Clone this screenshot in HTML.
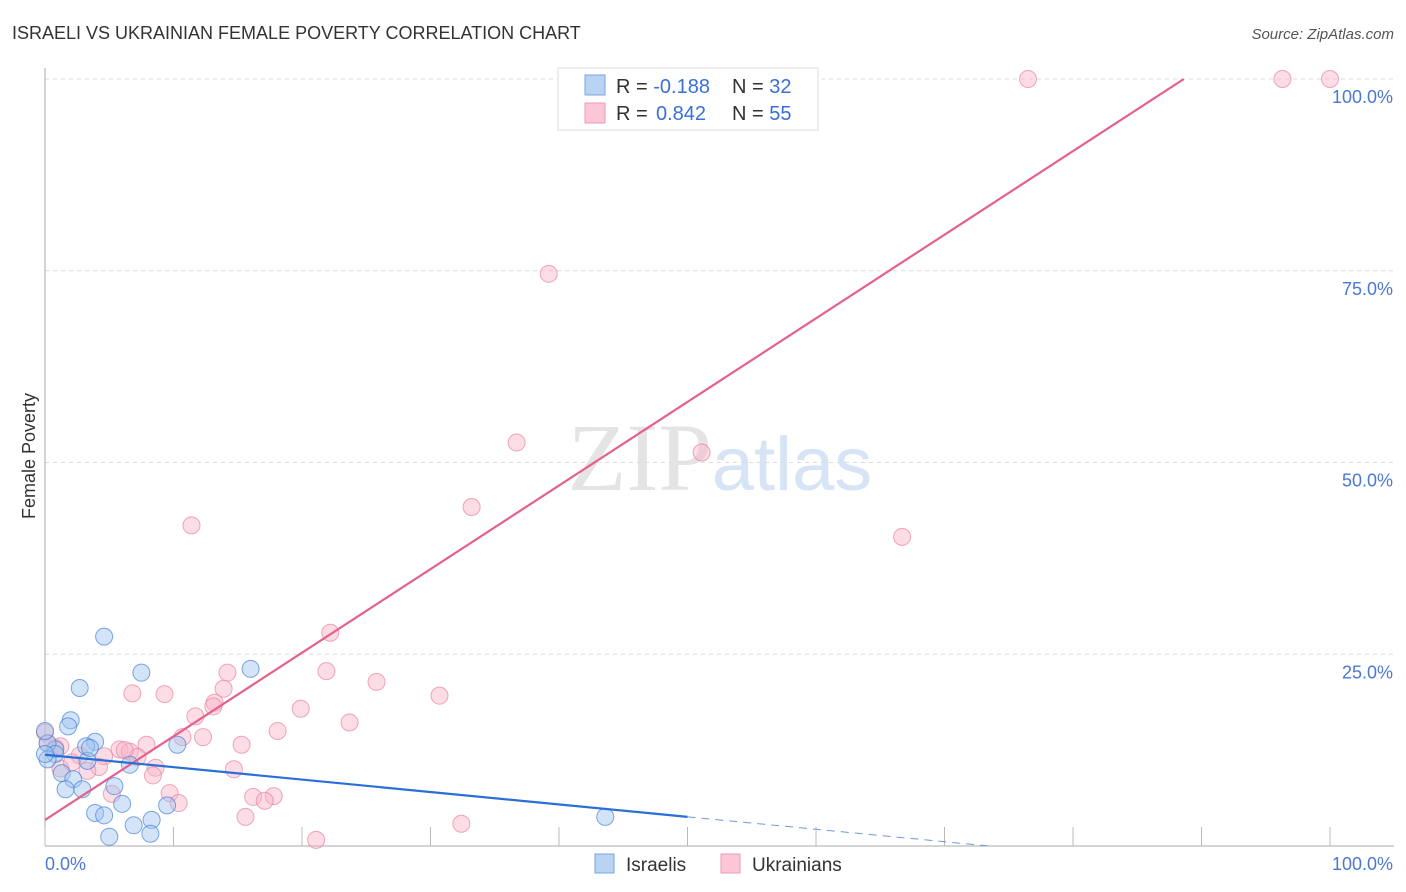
<!DOCTYPE html>
<html><head><meta charset="utf-8"><style>
body{margin:0;background:#fff;font-family:"Liberation Sans",sans-serif;}
</style></head><body>
<svg id="c" width="1406" height="892" xmlns="http://www.w3.org/2000/svg" style="display:block">
<text x="12" y="39" font-size="18" fill="#333">ISRAELI VS UKRAINIAN FEMALE POVERTY CORRELATION CHART</text>
<text x="1394" y="39" font-size="15" fill="#555" font-style="italic" text-anchor="end">Source: ZipAtlas.com</text>
<text x="35" y="456" font-size="18" fill="#333" transform="rotate(-90 35 456)" text-anchor="middle">Female Poverty</text>
<text x="720" y="490" font-size="96" fill="#e4e4e4" text-anchor="middle" font-family="Liberation Serif,serif">ZIP<tspan fill="#d6e4f5" font-family="Liberation Sans,sans-serif" font-size="76">atlas</tspan></text>
<g id="grid"></g><g id="axes"></g><g id="pts"></g><g id="lines"></g>
<g>
<rect x="558" y="68" width="260" height="62" fill="#fff" stroke="#ddd"/>
<rect x="585" y="75" width="20" height="20" fill="#b9d3f3" stroke="#7aa6e0"/>
<rect x="585" y="103" width="20" height="20" fill="#fbc7d6" stroke="#ee9ab3"/>
<text x="616" y="93" font-size="20" fill="#333">R = <tspan fill="#3a6fd8">-0.188</tspan></text>
<text x="732" y="93" font-size="20" fill="#333">N = <tspan fill="#3a6fd8">32</tspan></text>
<text x="616" y="120" font-size="20" fill="#333">R = <tspan fill="#3a6fd8" x="656">0.842</tspan></text>
<text x="732" y="120" font-size="20" fill="#333">N = <tspan fill="#3a6fd8">55</tspan></text>
</g>
<g>
<rect x="595" y="854" width="19" height="19" fill="#b9d3f3" stroke="#7aa6e0"/>
<text x="626" y="871" font-size="19" fill="#333">Israelis</text>
<rect x="721" y="854" width="19" height="19" fill="#fbc7d6" stroke="#ee9ab3"/>
<text x="752" y="871" font-size="19" fill="#333">Ukrainians</text>
</g>
</svg>
<script>
const israeliX=[4.6,2.7,7.5,16,2,1.8,3.9,3.2,0.8,0.2,0.8,1.3,2.2,1.6,2.9,6.6,5.4,6,3.9,4.6,9.5,8.3,6.9,5,8.2,10.3,43.6,0,3.3,0.2,3.5,0];
const israeliY=[27.3,20.6,22.6,23.1,16.4,15.6,13.6,13,12.6,13.4,12,9.5,8.7,7.4,7.4,10.6,7.8,5.5,4.3,4,5.3,3.4,2.7,1.2,1.6,13.2,3.8,15,11.1,11.3,12.8,12];
const ukrX=[76.5,96.3,100,48.2,48.8,39.2,36.7,51.1,33.2,66.7,11.4,22.2,21.9,25.8,14.2,13.9,9.3,6.8,30.7,13.2,13.1,19.9,11.7,23.7,18.1,12.3,15.3,10.7,7.9,5.8,6.6,4.6,2.7,7.2,8.6,14.7,4.2,3.3,1.2,8.4,9.7,10.4,5.2,16.2,17.8,17.1,15.6,32.4,21.1,0,0.8,2.1,6.2,1.2,0.2];
const ukrY=[100,100,100,100,100,74.6,52.6,51.3,44.2,40.3,41.8,27.8,22.8,21.4,22.6,20.5,19.8,19.9,19.6,18.7,18.2,17.9,16.9,16.1,15,14.2,13.2,14.2,13.2,12.6,12.3,11.7,11.8,11.6,10.2,10,10.3,9.8,10.1,9.2,6.9,5.6,6.8,6.4,6.5,5.9,3.8,2.9,0.8,14.8,12.8,10.9,12.5,13,13.4];
const xTicks=[0,10,20,30,40,50,60,70,80,90,100];
const yTicks=[25,50,75,100];
const yLabels=["25.0%","50.0%","75.0%","100.0%"];
const fitIsr=[11.9,-0.162];
const fitUkr=[3.4,1.09];
const X=v=>45+v*12.85, Y=v=>846-v*7.67;
const NS="http://www.w3.org/2000/svg";
function mk(t,a,p){const e=document.createElementNS(NS,t);for(const k in a)e.setAttribute(k,a[k]);p.appendChild(e);return e;}
const grid=document.getElementById('grid'),axes=document.getElementById('axes'),pts=document.getElementById('pts'),lines=document.getElementById('lines');
yTicks.forEach((v,i)=>{
 const l=mk('line',{x1:45,x2:1394,y1:Y(v),y2:Y(v),stroke:'#ddd','stroke-dasharray':'4 4'},grid);
 
 
 const t=mk('text',{x:1393,y:Y(v)+24,'font-size':18,fill:'#4a78d4','text-anchor':'end'},axes);
 t.textContent=yLabels[i];
 
 
});
const ax=mk('line',{x1:45,x2:1394,y1:846,y2:846,stroke:'#aaa'},axes);


const ay=mk('line',{x1:45,x2:45,y1:68,y2:846,stroke:'#aaa'},axes);


xTicks.forEach(v=>{const l=mk('line',{x1:X(v),x2:X(v),y1:827,y2:846,stroke:'#bbb'},axes);
 
 });
const t0=mk('text',{x:45,y:870,'font-size':18,fill:'#4a78d4'},axes);t0.textContent='0.0%';


const t1=mk('text',{x:1393,y:870,'font-size':18,fill:'#4a78d4','text-anchor':'end'},axes);t1.textContent='100.0%';


ukrX.forEach((v,i)=>{const c=mk('circle',{cx:X(v),cy:Y(ukrY[i]),r:8.5,fill:'rgba(248,180,200,0.45)',stroke:'rgba(232,130,160,0.7)'},pts);
 
 });
israeliX.forEach((v,i)=>{const c=mk('circle',{cx:X(v),cy:Y(israeliY[i]),r:8.5,fill:'rgba(160,195,240,0.45)',stroke:'rgba(70,130,215,0.7)'},pts);
 
 });
const xe=(100-fitUkr[0])/fitUkr[1];
const lu=mk('line',{x1:X(0),y1:Y(fitUkr[0]),x2:X(xe),y2:Y(100),stroke:'#e5608c','stroke-width':2.2},lines);


const li=mk('line',{x1:X(0),y1:Y(fitIsr[0]),x2:X(50),y2:Y(fitIsr[0]+fitIsr[1]*50),stroke:'#2a6fd8','stroke-width':2.2},lines);


const xz=-fitIsr[0]/fitIsr[1];
const ld=mk('line',{x1:X(50),y1:Y(fitIsr[0]+fitIsr[1]*50),x2:X(xz),y2:Y(0),stroke:'#6a9ae0','stroke-width':1,'stroke-dasharray':'8 6'},lines);


</script>
</body></html>
